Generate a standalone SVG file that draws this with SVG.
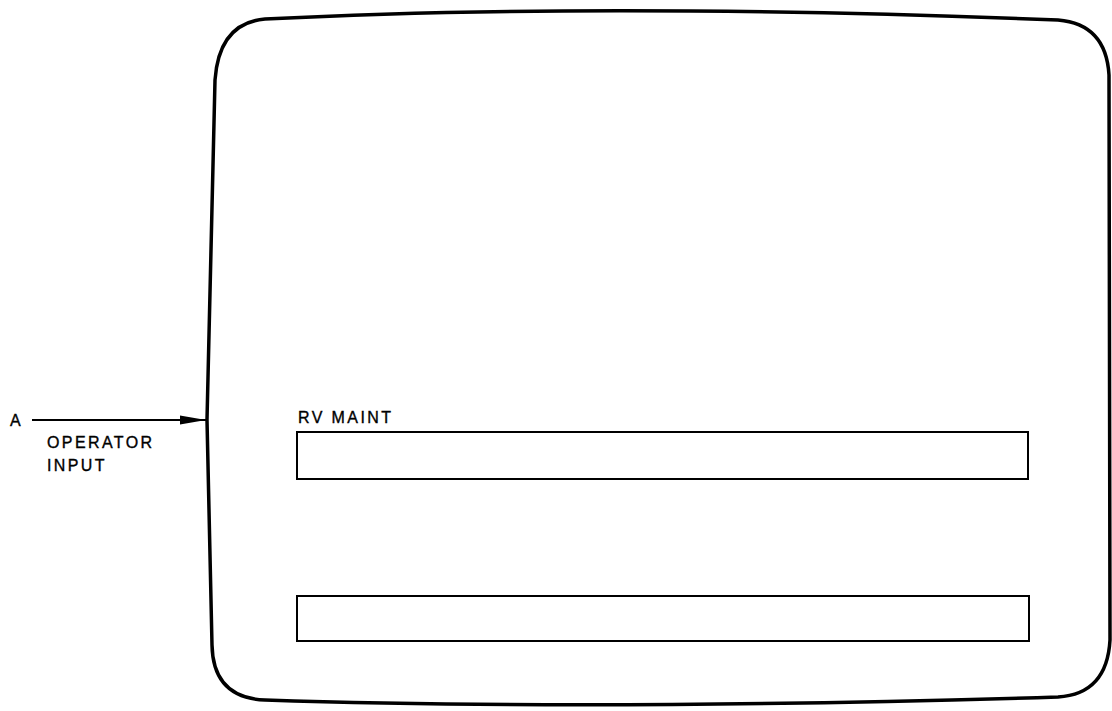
<svg xmlns="http://www.w3.org/2000/svg" width="1112" height="711" viewBox="0 0 1112 711">
<defs>
<style>
.t{font-family:"Liberation Sans",Arial,sans-serif;font-size:16px;fill:#000;stroke:#000;stroke-width:0.35;letter-spacing:2.4px}
.box{fill:none;stroke:#000;stroke-width:2}
</style>
<marker id="ah" markerWidth="26" markerHeight="10" refX="26" refY="5" orient="auto" markerUnits="userSpaceOnUse">
<path d="M0,0.5 L26,5 L0,9.5 Z" fill="#000"/>
</marker>
</defs>
<rect width="1112" height="711" fill="#fff"/>
<g id="screen">
<path d="M265,19 Q600,2 1058,20 Q1106,24 1109,75 L1110,640 Q1107,694 1058,697 Q600,711 265,700 Q213,698 212,645 L207,420 L215,80 Q219,23 265,19 Z" fill="none" stroke="#000" stroke-width="3.5"/>
</g>
<g id="rv-maint">
<text class="t" x="298" y="423">RV MAINT</text>
<rect class="box" x="297" y="432" width="731" height="47"/>
</g>
<g id="lower-field">
<rect class="box" x="297" y="596" width="732" height="45"/>
</g>
<g id="source-a">
<text class="t" x="10" y="426">A</text>
</g>
<g id="connectors">
<line x1="32" y1="420" x2="206" y2="420" stroke="#000" stroke-width="2" marker-end="url(#ah)"/>
<text class="t" x="47" y="448">OPERATOR</text>
<text class="t" x="47" y="471">INPUT</text>
</g>
</svg>
